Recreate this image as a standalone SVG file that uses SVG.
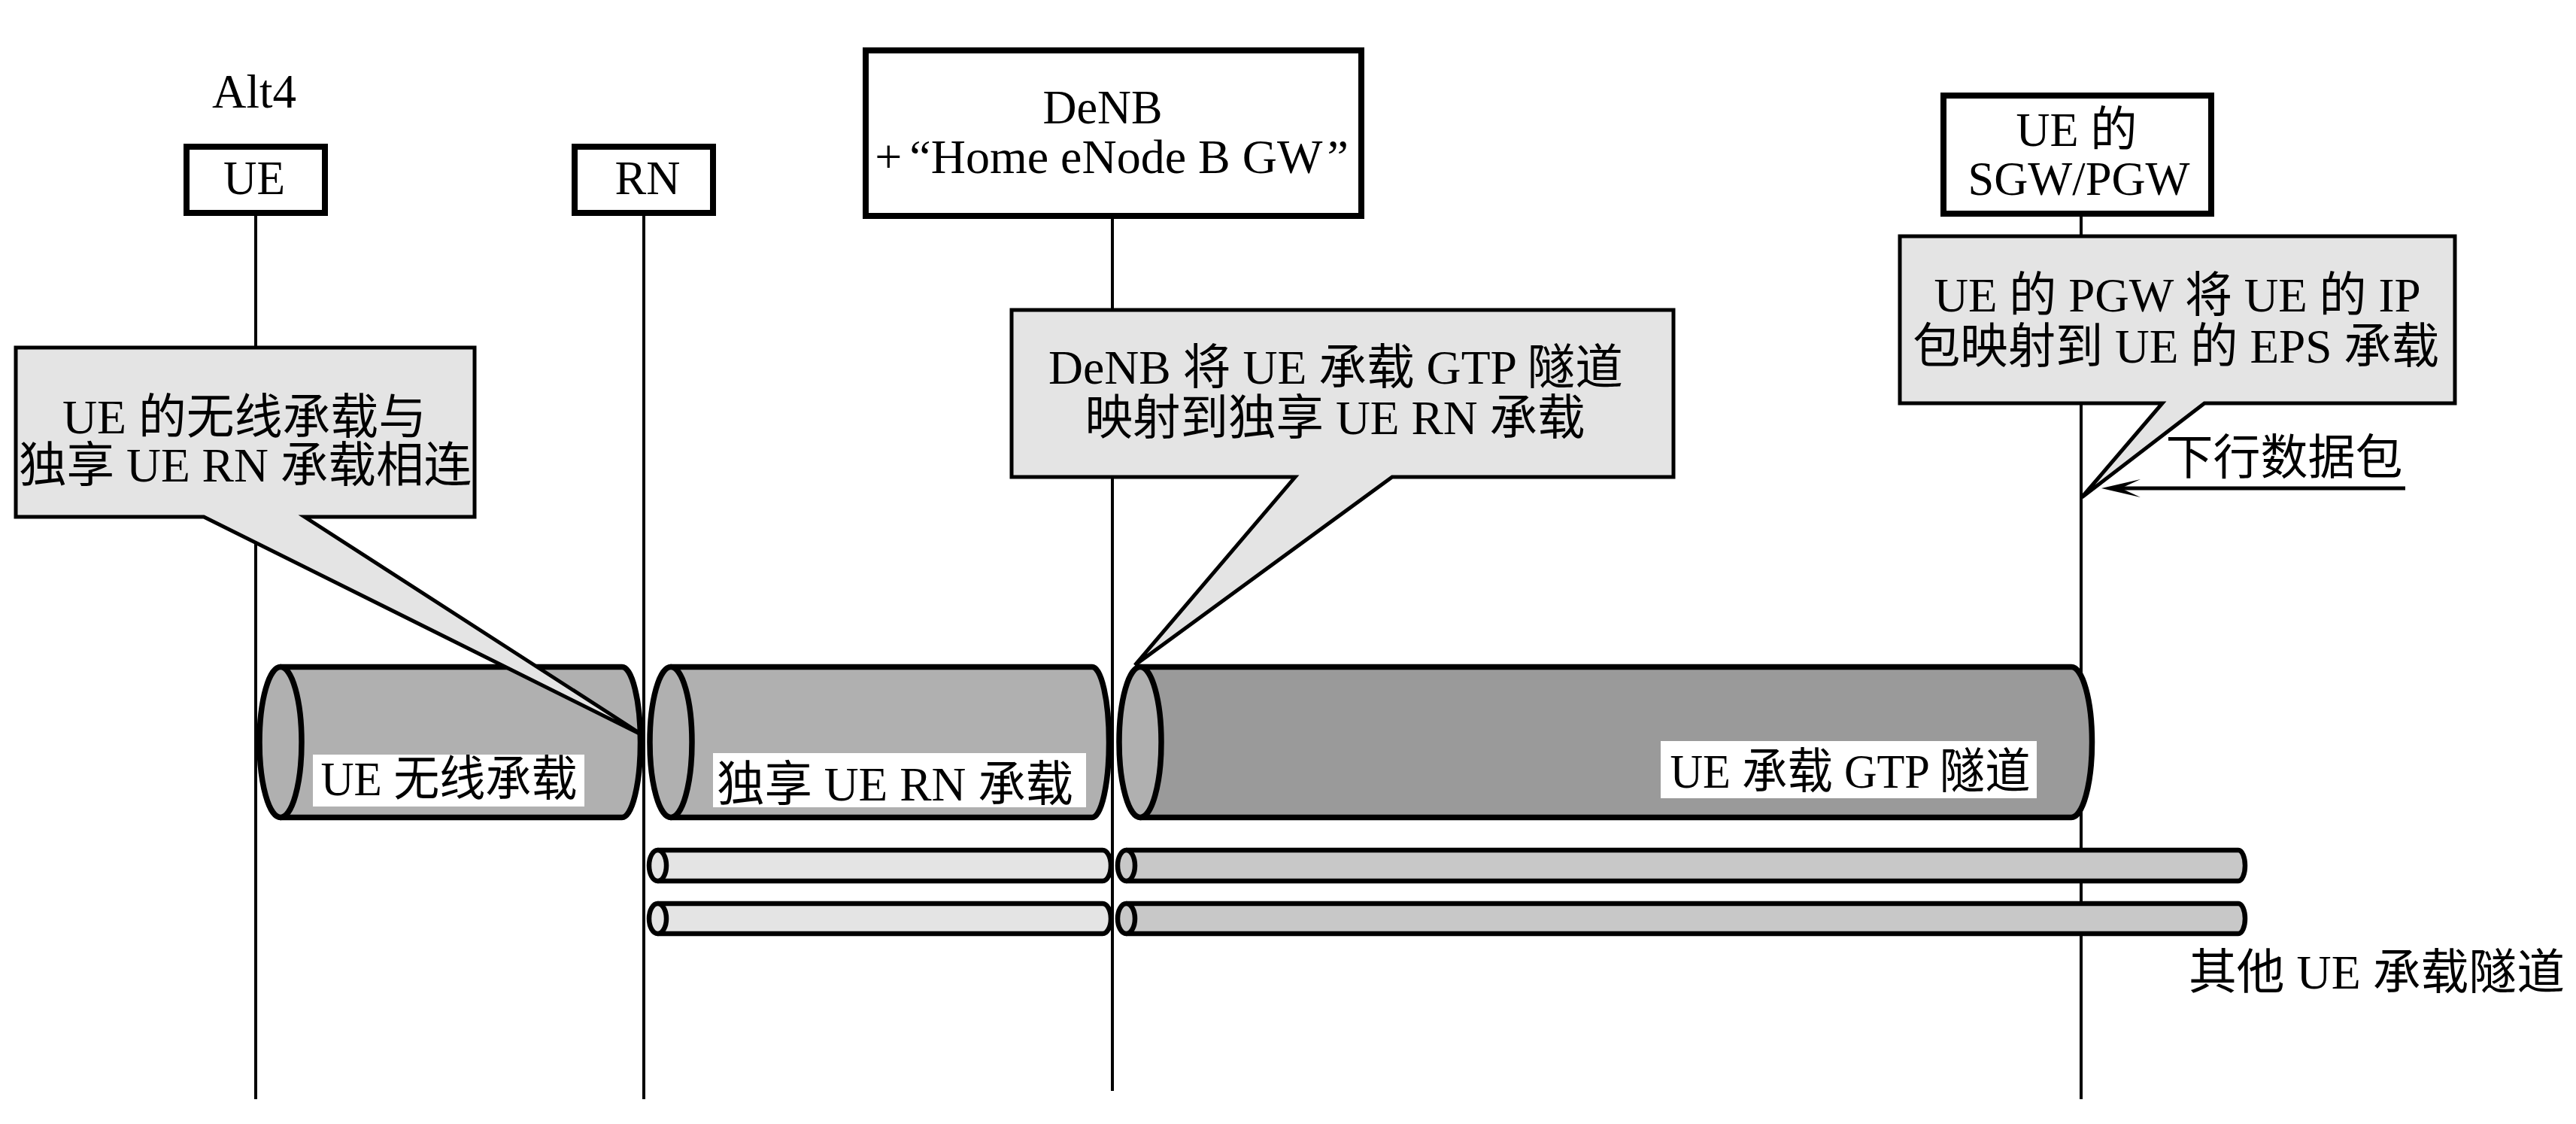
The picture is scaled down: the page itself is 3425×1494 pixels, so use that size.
<svg xmlns="http://www.w3.org/2000/svg" width="3425" height="1494" viewBox="0 0 3425 1494">
<style>
text{font-family:"Liberation Serif","Noto Sans CJK SC",serif;font-size:64px;fill:#000;text-anchor:middle}
.box{fill:#fff;stroke:#000;stroke-width:8}
.call{fill:#e4e4e4;stroke:#000;stroke-width:5;stroke-linejoin:miter}
.life{stroke:#000;stroke-width:4;fill:none}
.cyl{stroke:#000;stroke-width:7.500;stroke-linejoin:round}
.tube{stroke:#000;stroke-width:6.500;stroke-linejoin:round}
.lab{fill:#fff}
.a{fill:#b0b0b0}.b{fill:#9a9a9a}.c{fill:#e4e4e4}.d{fill:#c8c8c8}
</style>
<defs>
<marker id="head" markerUnits="userSpaceOnUse" markerWidth="54" markerHeight="26" refX="26" refY="13" orient="auto">
<path d="M52 13L0 1L26 13L0 25Z" fill="#000"/>
</marker>
</defs>
<rect width="3425" height="1494" fill="#fff"/>
<g id="connectors">
<line class="life" x1="340" y1="287" x2="340" y2="1461"/>
<line class="life" x1="856" y1="287" x2="856" y2="1461"/>
<line class="life" x1="1479" y1="290" x2="1479" y2="1450"/>
<line class="life" x1="2767" y1="287" x2="2767" y2="1461"/>
<line x1="3198" y1="649" x2="2820" y2="649" stroke="#000" stroke-width="5" marker-end="url(#head)"/>
</g>
<text x="338" y="143" textLength="112" lengthAdjust="spacingAndGlyphs">Alt4</text>
<g id="node-ue"><rect class="box" x="248" y="195" width="184" height="88"/><text x="338" y="258" textLength="82" lengthAdjust="spacingAndGlyphs">UE</text></g>
<g id="node-rn"><rect class="box" x="764" y="195" width="184" height="88"/><text x="861" y="258" textLength="87" lengthAdjust="spacingAndGlyphs">RN</text></g>
<g id="node-denb"><rect class="box" x="1151" y="67" width="659" height="220"/><text x="1466" y="164" textLength="159" lengthAdjust="spacingAndGlyphs">DeNB</text><text x="1478" y="230">+<tspan dx="10">“Home eNode B GW</tspan><tspan dx="6">”</tspan></text></g>
<g id="node-gw"><rect class="box" x="2584" y="127" width="356" height="157"/><text x="2761" y="194" textLength="161" lengthAdjust="spacingAndGlyphs">UE 的</text><text x="2764" y="259" textLength="295" lengthAdjust="spacingAndGlyphs">SGW/PGW</text></g>

<g id="tunnel-radio">
<path class="cyl a" d="M373 886.500H827A24.500 100 0 0 1 827 1086.500H373Z"/>
<ellipse class="cyl a" cx="373" cy="986.500" rx="28" ry="100"/>
<rect class="lab" x="416" y="1003" width="361" height="69"/>
<text x="597" y="1057" textLength="341" lengthAdjust="spacingAndGlyphs">UE 无线承载</text>
</g>
<g id="tunnel-rn">
<path class="cyl a" d="M892 886.500H1452A22.500 100 0 0 1 1452 1086.500H892Z"/>
<ellipse class="cyl a" cx="892" cy="986.500" rx="28" ry="100"/>
<rect class="lab" x="948" y="1001" width="496" height="72"/>
<text x="1190" y="1064" textLength="474" lengthAdjust="spacingAndGlyphs">独享 UE RN 承载</text>
</g>
<g id="tunnel-gtp">
<path class="cyl b" d="M1516 886.500H2754A27.500 100 0 0 1 2754 1086.500H1516Z"/>
<ellipse class="cyl a" cx="1516" cy="986.500" rx="28" ry="100"/>
<rect class="lab" x="2208" y="985" width="500" height="76"/>
<text x="2460" y="1047" textLength="479" lengthAdjust="spacingAndGlyphs">UE 承载 GTP 隧道</text>
</g>
<g id="tube-a1"><path class="tube c" d="M875 1130H1466A11 20.500 0 0 1 1466 1171H875Z"/><ellipse class="tube c" cx="874.500" cy="1150.500" rx="11.500" ry="20.500"/></g>
<g id="tube-a2"><path class="tube d" d="M1498 1130H2976A9 20.500 0 0 1 2976 1171H1498Z"/><ellipse class="tube d" cx="1497.500" cy="1150.500" rx="11.500" ry="20.500"/></g>
<g id="tube-b1"><path class="tube c" d="M875 1201H1466A11 20 0 0 1 1466 1241H875Z"/><ellipse class="tube c" cx="874.500" cy="1221" rx="11.500" ry="20"/></g>
<g id="tube-b2"><path class="tube d" d="M1498 1201H2976A9 20 0 0 1 2976 1241H1498Z"/><ellipse class="tube d" cx="1497.500" cy="1221" rx="11.500" ry="20"/></g>

<g id="callout-ue">
<path class="call" d="M21 462H631V687H405L856 978L271 687H21Z"/>
<text x="325" y="576" textLength="484" lengthAdjust="spacingAndGlyphs">UE 的无线承载与</text>
<text x="326" y="640" textLength="602" lengthAdjust="spacingAndGlyphs">独享 UE RN 承载相连</text>
</g>
<g id="callout-denb">
<path class="call" d="M1345 412H2225V634H1851L1509 884L1722 634H1345Z"/>
<text x="1776" y="510" textLength="764" lengthAdjust="spacingAndGlyphs">DeNB 将 UE 承载 GTP 隧道</text>
<text x="1775" y="577" textLength="665" lengthAdjust="spacingAndGlyphs">映射到独享 UE RN 承载</text>
</g>
<g id="callout-pgw">
<path class="call" d="M2526 314H3264V536H2931L2768 661L2875 536H2526Z"/>
<text x="2895" y="414" textLength="647" lengthAdjust="spacingAndGlyphs">UE 的 PGW 将 UE 的 IP</text>
<text x="2893" y="482" textLength="700" lengthAdjust="spacingAndGlyphs">包映射到 UE 的 EPS 承载</text>
</g>
<text x="3037" y="630" textLength="315" lengthAdjust="spacingAndGlyphs">下行数据包</text>
<text x="3160" y="1314" textLength="500" lengthAdjust="spacingAndGlyphs">其他 UE 承载隧道</text>
</svg>
